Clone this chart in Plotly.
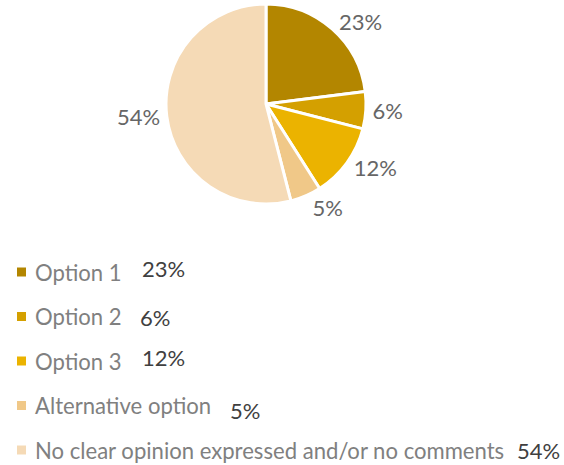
import plotly.graph_objects as go

# Survey response shares
labels = ["Option 1", "Option 2", "Option 3", "Alternative option",
          "No clear opinion expressed and/or no comments"]
values = [23, 6, 12, 5, 54]
colors = ["#B38600", "#D4A000", "#EBB300", "#F0C888", "#F5DAB6"]

# Placement of the value printed beside each legend entry (px from top-left)
value_label_x = [140, 138, 140, 228, 515]
value_label_y = [268, 317, 357, 410, 450]

W, H = 564, 465
FONT = "Lato"

fig = go.Figure()
fig.add_trace(go.Pie(
    labels=labels,
    values=values,
    sort=False,
    direction="clockwise",
    rotation=0,
    marker=dict(colors=colors, line=dict(color="white", width=3)),
    texttemplate="%{value}%",
    textposition="outside",
    textfont=dict(family=FONT, size=22, color="#666666"),
    showlegend=False,
    automargin=False,
    hoverinfo="label+percent",
    domain=dict(x=[0.1667, 0.7766], y=[1 - 204 / H, 1 - 4 / H]),
))

# Legend drawn below the pie: swatch, label and value per row
row_y0, row_step = 272, 44.5
shapes, annotations = [], []
for i, (lab, val, col) in enumerate(zip(labels, values, colors)):
    yc = row_y0 + i * row_step
    shapes.append(dict(type="rect", xref="paper", yref="paper",
                       x0=17 / W, x1=26 / W,
                       y0=1 - (yc + 4.5) / H, y1=1 - (yc - 4.5) / H,
                       fillcolor=col, line=dict(width=0)))
    annotations.append(dict(xref="paper", yref="paper", x=33 / W, y=1 - yc / H,
                            xanchor="left", yanchor="middle", showarrow=False,
                            text=lab, font=dict(family=FONT, size=22.1, color="#808080")))
    annotations.append(dict(xref="paper", yref="paper", x=value_label_x[i] / W,
                            y=1 - value_label_y[i] / H,
                            xanchor="left", yanchor="middle", showarrow=False,
                            text=f"{val}%", font=dict(family=FONT, size=22, color="#404040")))

fig.update_layout(
    width=W, height=H,
    margin=dict(l=0, r=0, t=0, b=0, autoexpand=False),
    paper_bgcolor="white", plot_bgcolor="white",
    shapes=shapes, annotations=annotations,
)

fig.write_html("out.html")
